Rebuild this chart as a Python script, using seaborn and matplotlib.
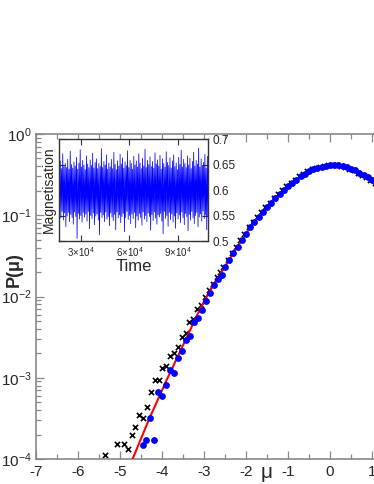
import numpy as np
import pandas as pd
import matplotlib
matplotlib.use("Agg")
import matplotlib.pyplot as plt
import matplotlib.ticker as mticker
import seaborn as sns

# ---------------- data ----------------
# red curve (theory)
red_mu = [-4.70, -4.30, -3.90, -3.50, -3.10, -2.80, -2.50, -2.20, -1.90, -1.60, -1.30,
          -1.00, -0.70, -0.40, -0.10, 0.10, 0.40, 0.70, 1.00, 1.20]
red_p = [1.00e-4, 3.16e-4, 9.12e-4, 2.51e-3, 6.92e-3, 1.35e-2, 2.34e-2, 4.12e-2, 7.08e-2,
         0.1096, 0.1622, 0.2265, 0.3020, 0.3673, 0.4093, 0.4169, 0.3981, 0.3388, 0.2754, 0.2344]

# blue circles
blue_mu = [-4.46, -4.38, -4.19, -4.29, -4.09, -3.99, -3.90, -3.81, -3.71, -3.61, -3.52,
           -3.43, -3.33, -3.23, -3.14, -3.04, -2.95, -2.86, -2.76, -2.66, -2.58,
           -2.50, -2.40, -2.30, -2.20, -2.10, -2.00, -1.90, -1.80, -1.70, -1.60, -1.50,
           -1.40, -1.30, -1.20, -1.10, -1.00, -0.90, -0.80, -0.70, -0.60, -0.50, -0.40,
           -0.30, -0.20, -0.10, 0.00, 0.10, 0.20, 0.30, 0.40, 0.50, 0.60, 0.70, 0.80,
           0.90, 1.00, 1.10]
blue_p = [1.48e-4, 1.70e-4, 1.70e-4, 3.16e-4, 6.76e-4, 6.03e-4, 8.13e-4, 1.26e-3, 1.15e-3,
          1.74e-3, 2.14e-3, 2.95e-3, 3.24e-3, 4.90e-3, 5.50e-3, 6.76e-3, 8.91e-3, 1.12e-2,
          1.38e-2, 1.66e-2, 1.84e-2,
          0.0234, 0.0285, 0.0339, 0.0412, 0.0495, 0.0589, 0.0708, 0.0822, 0.0955, 0.1096,
          0.1259, 0.1429, 0.1622, 0.1820, 0.2042, 0.2265, 0.2512, 0.2754, 0.3020, 0.3236,
          0.3467, 0.3673, 0.3846, 0.3981, 0.4093, 0.4150, 0.4169, 0.4121, 0.4046, 0.3936,
          0.3758, 0.3565, 0.3350, 0.3126, 0.2917, 0.2723, 0.2512]

# black crosses
black_mu = [-5.36, -5.08, -4.90, -4.81, -4.71, -4.64, -4.54, -4.45, -4.35, -4.26, -4.17,
            -4.08, -3.99, -3.90, -3.81, -3.71, -3.62, -3.52, -3.44, -3.35, -3.25, -3.16,
            -3.06, -2.98, -2.88, -2.79, -2.70, -2.61,
            -2.54, -2.44, -2.34, -2.24, -2.14, -2.04, -1.94, -1.84, -1.74, -1.64, -1.54,
            -1.44, -1.34, -1.24, -1.14, -1.04, -0.94, -0.84, -0.74, -0.64, -0.54, -0.44,
            -0.34, -0.24, -0.14, -0.04, 0.06, 0.16, 0.26, 0.36, 0.46, 0.56, 0.66, 0.76,
            0.86, 0.96, 1.06]
black_p = [1.12e-4, 1.55e-4, 1.55e-4, 1.32e-4, 2.00e-4, 2.45e-4, 3.47e-4, 3.24e-4, 4.37e-4,
           6.68e-4, 9.33e-4, 9.33e-4, 1.32e-3, 1.40e-3, 1.86e-3, 2.04e-3, 2.40e-3, 3.16e-3,
           3.59e-3, 4.79e-3, 5.25e-3, 6.92e-3, 7.94e-3, 1.00e-2, 1.20e-2, 1.41e-2, 1.74e-2,
           2.00e-2,
           0.0234, 0.0285, 0.0339, 0.0412, 0.0495, 0.0589, 0.0708, 0.0822, 0.0955, 0.1096,
           0.1259, 0.1429, 0.1622, 0.1820, 0.2042, 0.2265, 0.2512, 0.2754, 0.3020, 0.3236,
           0.3467, 0.3673, 0.3846, 0.3981, 0.4093, 0.4150, 0.4169, 0.4121, 0.4046, 0.3936,
           0.3758, 0.3565, 0.3350, 0.3126, 0.2917, 0.2723, 0.2512]

# inset: magnetisation time series
mag = [0.648,0.553,0.657,0.545,0.642,0.558,0.671,0.541,0.646,0.555,0.652,0.528,0.644,0.549,0.660,0.556,0.641,0.538,0.676,0.552,
       0.650,0.546,0.643,0.533,0.655,0.557,0.647,0.548,0.664,0.505,0.641,0.554,0.653,0.543,0.679,0.550,0.645,0.537,0.658,0.556,
       0.649,0.547,0.640,0.553,0.667,0.539,0.651,0.558,0.644,0.524,0.659,0.550,0.648,0.544,0.672,0.555,0.643,0.532,0.654,0.549,
       0.661,0.553,0.642,0.541,0.652,0.512,0.646,0.556,0.681,0.546,0.644,0.551,0.656,0.538,0.649,0.557,0.669,0.543,0.641,0.548,
       0.653,0.530,0.645,0.555,0.660,0.547,0.642,0.540,0.674,0.552,0.650,0.522,0.640,0.557,0.657,0.545,0.647,0.551,0.670,0.536,
       0.651,0.548,0.663,0.554,0.643,0.518,0.655,0.546,0.648,0.558,0.677,0.542,0.644,0.550,0.658,0.534,0.652,0.553,0.641,0.544,
       0.666,0.556,0.649,0.526,0.657,0.549,0.645,0.541,0.671,0.554,0.653,0.546,0.642,0.531,0.662,0.557,0.647,0.543,0.680,0.550,
       0.644,0.538,0.658,0.555,0.650,0.548,0.665,0.521,0.646,0.552,0.656,0.540,0.643,0.557,0.673,0.545,0.651,0.533,0.659,0.551,
       0.647,0.547,0.668,0.554,0.641,0.539,0.661,0.514,0.652,0.558,0.645,0.544,0.675,0.550,0.654,0.529,0.648,0.556,0.663,0.542,
       0.643,0.553,0.657,0.537,0.669,0.549,0.646,0.525,0.653,0.555,0.640,0.543,0.664,0.551,0.650,0.536,0.678,0.557,0.645,0.546,
       0.660,0.532,0.652,0.554,0.644,0.548,0.667,0.520,0.649,0.552,0.662,0.541,0.642,0.558,0.656,0.545,0.674,0.534,0.647,0.550,
       0.658,0.556,0.651,0.528,0.682,0.547,0.645,0.553,0.661,0.539,0.648,0.559,0.654,0.544,0.670,0.551,0.643,0.522,0.666,0.548]
time_start, time_end = 1.64e4, 1.086e5
time = np.linspace(time_start, time_end, len(mag))

x_ticks = [-7, -6, -5, -4, -3, -2, -1, 0, 1]
x_ticklabels = ["-7", "-6", "-5", "-4", "-3", "-2", "-1", "0", "1"]
y_ticks = [1e-4, 1e-3, 1e-2, 1e-1, 1e0]
y_ticklabels = [r"$10^{-4}$", r"$10^{-3}$", r"$10^{-2}$", r"$10^{-1}$", r"$10^{0}$"]
inset_xticks = [3e4, 6e4, 9e4]
inset_xticklabels = [r"3$\times$10$^4$", r"6$\times$10$^4$", r"9$\times$10$^4$"]
inset_yticks = [0.5, 0.55, 0.6, 0.65, 0.7]
inset_yticklabels = ["0.5", "0.55", "0.6", "0.65", "0.7"]

# ---------------- style ----------------
sns.set_style("ticks")
plt.rcParams["font.family"] = ["Liberation Sans", "DejaVu Sans"]
plt.rcParams["mathtext.fontset"] = "custom"
plt.rcParams["mathtext.rm"] = "Liberation Sans"
plt.rcParams["mathtext.it"] = "Liberation Sans:italic"
plt.rcParams["mathtext.bf"] = "Liberation Sans:bold"

W, H = 374, 484
fig = plt.figure(figsize=(W / 100, H / 100), dpi=100)

def box(l, t, r, b):
    return [l / W, 1 - b / H, (r - l) / W, (b - t) / H]

spine_c = "#888888"

ax = fig.add_axes(box(36, 134, 36 + 42 * 9, 459))
df_black = pd.DataFrame({"mu": black_mu, "p": black_p})
df_blue = pd.DataFrame({"mu": blue_mu, "p": blue_p})
df_red = pd.DataFrame({"mu": red_mu, "p": red_p})

sns.scatterplot(data=df_black, x="mu", y="p", marker="x", color="black", s=14,
                linewidth=1.2, ax=ax, zorder=2, legend=False)
sns.lineplot(data=df_red, x="mu", y="p", color="red", lw=1.5, ax=ax, zorder=3,
             legend=False, sort=False)
sns.scatterplot(data=df_blue, x="mu", y="p", marker="o", color="#0000ff", s=24,
                linewidth=0, ax=ax, zorder=4, legend=False)

ax.set_yscale("log")
ax.set_xlim(-7, 2)
ax.set_ylim(1e-4, 1e0)
ax.set_xticks(x_ticks)
ax.set_xticklabels(x_ticklabels)
ax.set_yticks(y_ticks)
ax.set_yticklabels(y_ticklabels)
ax.xaxis.set_minor_locator(mticker.MultipleLocator(0.5))
ax.yaxis.set_minor_locator(mticker.LogLocator(base=10, subs=np.arange(2, 10), numticks=20))
ax.yaxis.set_minor_formatter(mticker.NullFormatter())
ax.tick_params(which="both", direction="in", top=True, right=False, color=spine_c,
               labelsize=11, pad=3)
ax.tick_params(which="major", length=6, width=0.9)
ax.tick_params(which="minor", length=3.5, width=0.9)
ax.tick_params(axis="x", pad=4)
for s in ax.spines.values():
    s.set_color(spine_c)
    s.set_linewidth(1.2)
ax.set_xlabel("")
ax.set_ylabel("")
fig.text(267 / W, 1 - 472 / H, "μ", fontsize=15, ha="center", va="center")
fig.text(14 / W, 1 - 270 / H, "P(μ)", fontsize=13, fontweight="bold", rotation=90,
         ha="center", va="center")

# ---------------- inset ----------------
ins = fig.add_axes(box(59, 139, 208, 241))
df_mag = pd.DataFrame({"time": time, "mag": mag})
sns.lineplot(data=df_mag, x="time", y="mag", color="#0000ff", lw=0.55, alpha=1.0,
             ax=ins, legend=False)
ins.set_xlim(time_start, time_end)
ins.set_ylim(0.5, 0.7)
ins.set_xticks(inset_xticks)
ins.set_xticklabels(inset_xticklabels)
ins.set_yticks(inset_yticks)
ins.set_yticklabels(inset_yticklabels)
ins.yaxis.tick_right()
ins.tick_params(which="both", direction="in", top=True, left=True, right=True,
                color="#333333", length=4, width=0.8)
ins.tick_params(axis="y", labelsize=8.5, labelright=True, labelleft=False, pad=3)
ins.tick_params(axis="x", labelsize=7, pad=3)
ins.set_xlabel("Time", fontsize=12, labelpad=0)
ins.set_ylabel("Magnetisation", fontsize=10, labelpad=2)
ins.yaxis.set_label_position("left")
for s in ins.spines.values():
    s.set_color("#333333")
    s.set_linewidth(1.0)

fig.savefig("out.png", dpi=100)
